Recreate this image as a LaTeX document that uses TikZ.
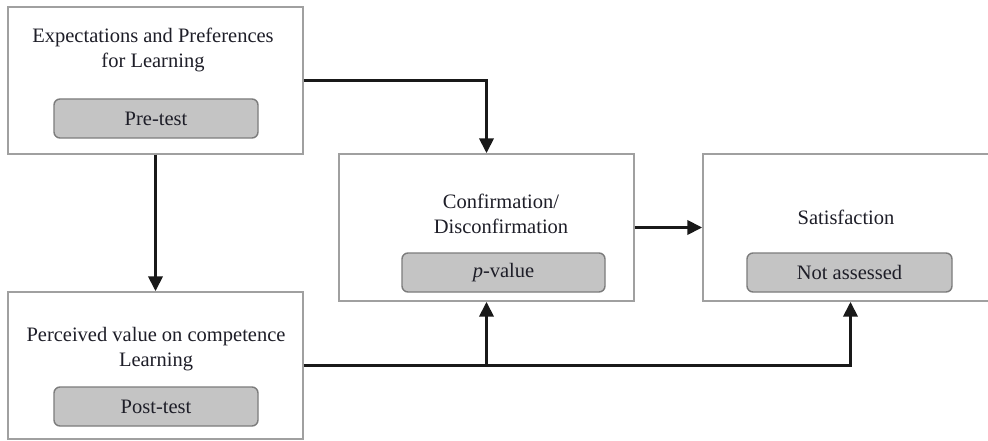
\documentclass[tikz,border=0pt]{standalone}
\usepackage{fontspec}
\setmainfont{Liberation Serif}
\usetikzlibrary{arrows.meta}
\definecolor{boxline}{HTML}{A0A0A0}
\definecolor{tagfill}{HTML}{C4C4C4}
\definecolor{tagline}{HTML}{7C7C7C}
\definecolor{txt}{HTML}{1E1E28}
\begin{document}
\begin{tikzpicture}[x=1pt,y=-1pt,
  outer/.style={draw=boxline,line width=1.4pt,fill=white,minimum width=295pt,minimum height=147pt,inner sep=0pt},
  tag/.style={draw=tagline,line width=1.4pt,fill=tagfill,rounded corners=6pt,minimum height=39pt,inner sep=0pt,text=txt,font=\fontsize{20.5}{24}\selectfont},
  lbl/.style={align=center,text=txt,font=\fontsize{20.5}{25}\selectfont,inner sep=0pt},
  conn/.style={line width=3.7pt,black!90},
  arr/.style={conn,-{Triangle[width=14pt,length=15pt]}}]
\useasboundingbox (0,0) rectangle (988,441);
\fill[white] (0,0) rectangle (988,441);
% outer boxes
\node[outer] (b1) at (155.5,80.5) {};
\node[outer] (b2) at (155.5,365.5) {};
\node[outer] (b3) at (486.5,227.5) {};
\node[outer] (b4) at (850.5,227.5) {};
% labels
\node[lbl] (t1) at (153,50) {Expectations and Preferences\\for Learning};
\node[lbl] (t2) at (156,349) {Perceived value on competence\\Learning};
\node[lbl] (t3) at (501,214) {Confirmation/\\Disconfirmation};
\node[lbl] (t4) at (846,217) {Satisfaction};
% tags
\node[tag,minimum width=204pt] (g1) at (156,118.5) {Pre-test};
\node[tag,minimum width=204pt] (g2) at (156,406.5) {Post-test};
\node[tag,minimum width=203pt] (g3) at (503.5,272.5) {\textit{p}-value};
\node[tag,minimum width=205pt] (g4) at (849.5,272.5) {Not assessed};
% connectors
\draw[arr] (b1.east) -| (b3.north);
\draw[arr] (b1.south) -- (b2.north);
\draw[arr] (b3.east) -- (b4.west);
\coordinate (j) at (b2.east -| b3.south);
\draw[arr] (b2.east) -| (b4.south);
\draw[arr] (j) -- (b3.south);
\end{tikzpicture}
\end{document}
